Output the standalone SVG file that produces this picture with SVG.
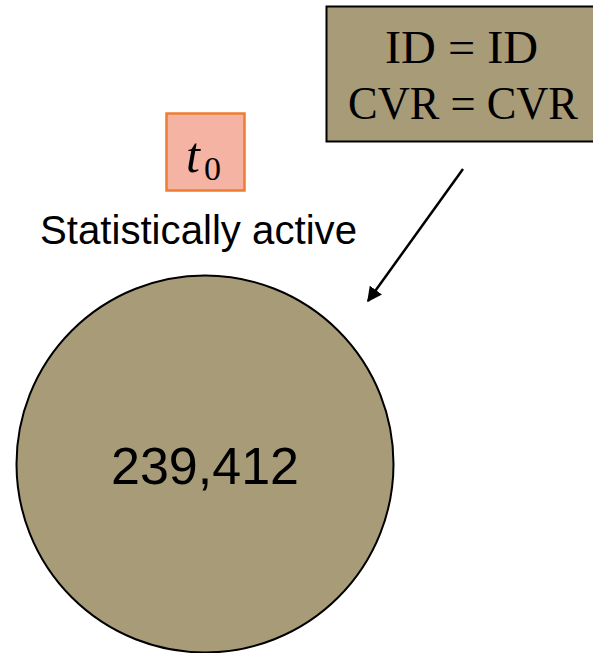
<svg xmlns="http://www.w3.org/2000/svg" width="593" height="653" viewBox="0 0 593 653">
<style>
.sans{font-family:"Liberation Sans",Arial,sans-serif;fill:#000}
.serif{font-family:"Liberation Serif","DejaVu Serif",serif;fill:#000}
</style>
<defs>
<marker id="ah" viewBox="0 0 10 10" refX="9" refY="5" markerWidth="6" markerHeight="6" markerUnits="strokeWidth" orient="auto">
<path d="M0,0 L10,5 L0,10 z" fill="#000"/>
</marker>
</defs>
<g id="population">
<circle cx="205" cy="464" r="188.5" fill="#A79B78" stroke="#000" stroke-width="2"/>
<text class="sans" x="205" y="484" font-size="52" text-anchor="middle">239,412</text>
</g>
<g id="time-label">
<rect x="166.5" y="113.5" width="78" height="77" fill="#F5B4A3" stroke="#ED7D31" stroke-width="2.5"/>
<text class="serif" x="186" y="172" font-size="50" font-style="italic">t</text>
<text class="serif" x="204" y="180" font-size="34">0</text>
</g>
<g id="status-label">
<text class="sans" x="198.5" y="244" font-size="40" text-anchor="middle" textLength="317" lengthAdjust="spacingAndGlyphs">Statistically active</text>
</g>
<g id="join-keys">
<rect x="326.5" y="6.5" width="280" height="135" fill="#A79B78" stroke="#000" stroke-width="2"/>
<text class="serif" x="385" y="63" font-size="46" textLength="153" lengthAdjust="spacingAndGlyphs">ID = ID</text>
<text class="serif" x="348" y="119" font-size="46" textLength="230" lengthAdjust="spacingAndGlyphs">CVR = CVR</text>
</g>
<g id="connectors">
<line x1="463" y1="169" x2="368" y2="301" stroke="#000" stroke-width="2.5" marker-end="url(#ah)"/>
</g>
</svg>
